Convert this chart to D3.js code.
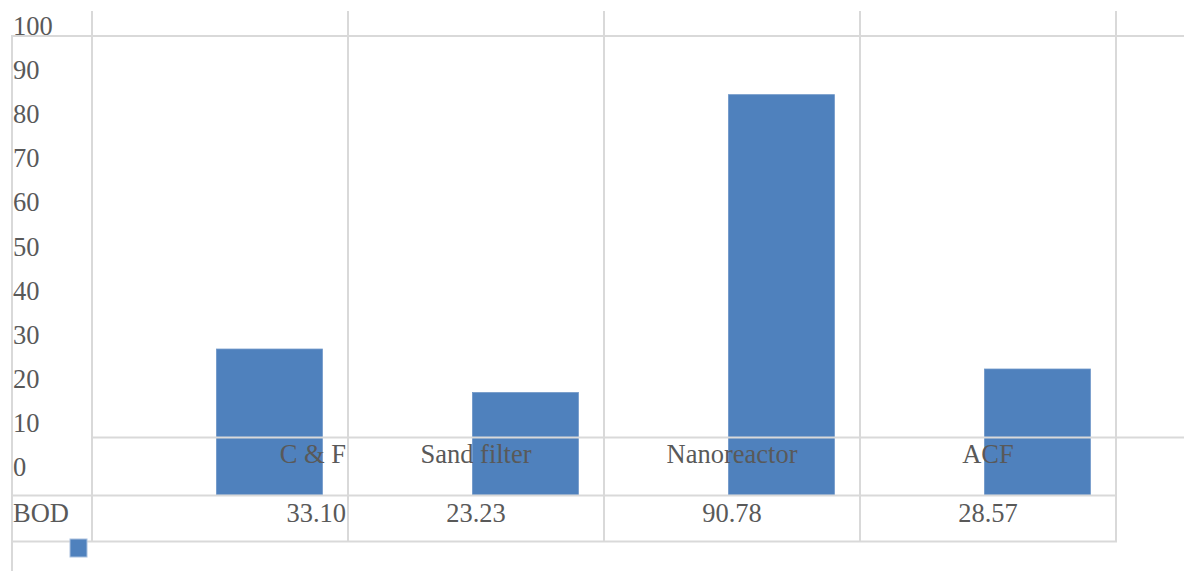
<!DOCTYPE html>
<html>
<head>
<meta charset="utf-8">
<script src="https://cdn.jsdelivr.net/npm/d3@7"></script>
<style>
  html, body { margin: 0; padding: 0; background: #fff; }
  svg text { font-family: "Liberation Serif", "Times New Roman", serif; fill: #595959; }
</style>
</head>
<body>
<svg id="chart" width="1184" height="571"></svg>
<script>
// BOD removal by treatment stage
const categories = ["C & F", "Sand filter", "Nanoreactor", "ACF"];
const seriesName = "BOD";
const bodValues = [33.10, 23.23, 90.78, 28.57];
const valueLabels = ["33.10", "23.23", "90.78", "28.57"];
const yTicks = [0, 10, 20, 30, 40, 50, 60, 70, 80, 90, 100];

const W = 1184, H = 571;
const svg = d3.select("#chart");
const gridColor = "#d9d9d9";
const barColor = "#4f81bd";
const fontSize = 26.5;

// column bands of the data table
const xCol = d3.scaleBand().domain(categories).range([92, 1116]).padding(0);
const bw = xCol.bandwidth();

// value scale
const y = d3.scaleLinear().domain([0, 100]).range([495, 54]);

// bars
svg.append("g").selectAll("rect")
  .data(categories.map((c, i) => ({ c, v: bodValues[i] })))
  .join("rect")
  .attr("x", d => xCol(d.c) + bw * 0.486)
  .attr("width", bw * 0.414)
  .attr("y", d => y(d.v))
  .attr("height", d => y(0) - y(d.v))
  .attr("fill", barColor)
  .attr("stroke", "#6f97c8")
  .attr("stroke-width", 0.8);

// grid / table lines
const lines = svg.append("g").attr("stroke", gridColor).attr("stroke-width", 2).attr("fill", "none");
lines.append("line").attr("x1", 11).attr("x2", W).attr("y1", 36).attr("y2", 36);
lines.append("line").attr("x1", 12).attr("x2", 12).attr("y1", 36).attr("y2", H);
const colEdges = categories.map(c => xCol(c)).concat([xCol.range()[1]]);
colEdges.forEach(x => {
  lines.append("line").attr("x1", x).attr("x2", x).attr("y1", 11).attr("y2", 542);
});
lines.append("line").attr("x1", 92).attr("x2", W).attr("y1", 437.5).attr("y2", 437.5);
lines.append("line").attr("x1", 11).attr("x2", 1117).attr("y1", 495.5).attr("y2", 495.5);
lines.append("line").attr("x1", 11).attr("x2", 1117).attr("y1", 541.5).attr("y2", 541.5);

// y tick labels
svg.append("g").selectAll("text")
  .data(yTicks)
  .join("text")
  .attr("x", 13)
  .attr("y", d => y(d) - 28 + 9)
  .attr("font-size", fontSize)
  .text(d => d3.format("d")(d));

// category labels
svg.append("g").selectAll("text")
  .data(categories)
  .join("text")
  .attr("x", (d, i) => i === 0 ? xCol(d) + bw - 2 : xCol(d) + bw / 2)
  .attr("y", 463)
  .attr("text-anchor", (d, i) => i === 0 ? "end" : "middle")
  .attr("font-size", fontSize)
  .text(d => d);

// data table row
svg.append("text").attr("x", 13).attr("y", 522).attr("font-size", fontSize).text(seriesName);
svg.append("g").selectAll("text")
  .data(categories.map((c, i) => ({ c, t: valueLabels[i] })))
  .join("text")
  .attr("x", (d, i) => i === 0 ? xCol(d.c) + bw - 2 : xCol(d.c) + bw / 2)
  .attr("y", 522)
  .attr("text-anchor", (d, i) => i === 0 ? "end" : "middle")
  .attr("font-size", fontSize)
  .text(d => d.t);

// legend key
svg.append("rect")
  .attr("x", 70).attr("y", 539).attr("width", 17).attr("height", 18)
  .attr("fill", barColor).attr("stroke", "#a9c0de").attr("stroke-width", 1);
</script>
</body>
</html>
